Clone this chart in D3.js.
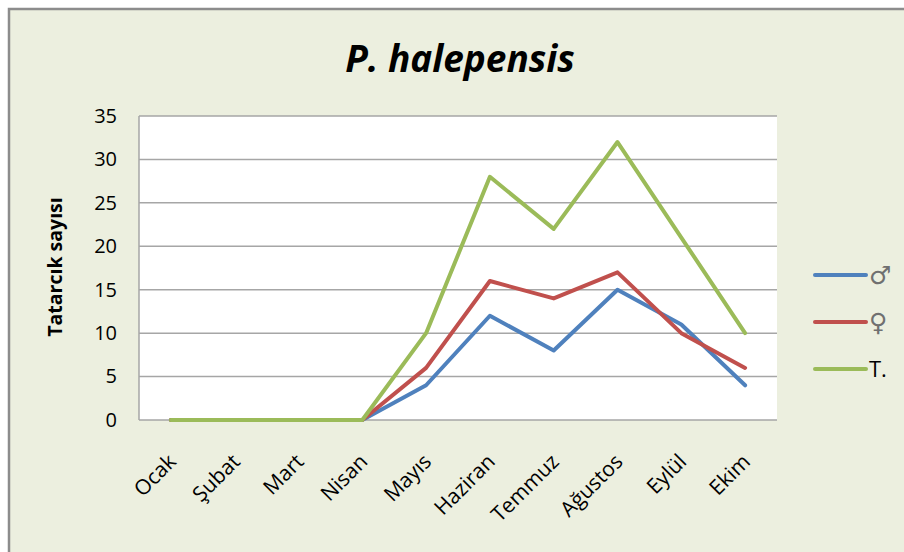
<!DOCTYPE html>
<html>
<head>
<meta charset="utf-8">
<script src="https://cdn.jsdelivr.net/npm/d3@7"></script>
<style>
  body { margin: 0; background: #fff; }
  text { font-family: "Open Sans", "DejaVu Sans", sans-serif; }
</style>
</head>
<body>
<div class="chart"></div>
<script>
const WIDTH = 904;
const HEIGHT = 552;

// plot area
const LEFT = 139, TOP = 116, RIGHT = 777, BOTTOM = 420;

var months = ["Ocak", "Şubat", "Mart", "Nisan", "Mayıs", "Haziran", "Temmuz", "Ağustos", "Eylül", "Ekim"];
var erkek = [0, 0, 0, 0, 4, 12, 8, 15, 11, 4];
var disi = [0, 0, 0, 0, 6, 16, 14, 17, 10, 6];
var toplam = [0, 0, 0, 0, 10, 28, 22, 32, 21, 10];
var yTicks = [0, 5, 10, 15, 20, 25, 30, 35];

var series = [
  { name: "♂", values: erkek, color: "#4F81BD" },
  { name: "♀", values: disi, color: "#C0504D" },
  { name: "T.", values: toplam, color: "#9BBB59" }
];

var translate = function(x, y) {
  return "translate(" + x + "," + y + ")";
};

var svg = d3.select(".chart").append("svg")
  .attr("width", WIDTH)
  .attr("height", HEIGHT);

// chart background + frame
svg.append("rect")
  .attr("x", 9).attr("y", 9)
  .attr("width", WIDTH + 10).attr("height", HEIGHT + 10)
  .attr("fill", "#ECEFDF")
  .attr("stroke", "#8C8C8C")
  .attr("stroke-width", 2.5);

var xScale = d3.scalePoint()
  .domain(months)
  .range([LEFT, RIGHT])
  .padding(0.5);

var yScale = d3.scaleLinear()
  .domain([0, 35])
  .range([BOTTOM, TOP]);

// plot area
svg.append("rect")
  .attr("x", LEFT).attr("y", TOP)
  .attr("width", RIGHT - LEFT).attr("height", BOTTOM - TOP)
  .attr("fill", "#fff");

// grid
svg.selectAll(".grid")
  .data(yTicks)
  .enter().append("line")
  .attr("x1", LEFT).attr("x2", RIGHT)
  .attr("y1", function(d) { return yScale(d); })
  .attr("y2", function(d) { return yScale(d); })
  .attr("stroke", "#A6A6A6")
  .attr("stroke-width", 1.5);

svg.append("line")
  .attr("x1", LEFT).attr("x2", LEFT)
  .attr("y1", TOP).attr("y2", BOTTOM)
  .attr("stroke", "#A6A6A6").attr("stroke-width", 1.5);

// y axis
var yAxis = d3.axisLeft(yScale).tickValues(yTicks).tickSize(0).tickPadding(22);
var gy = svg.append("g")
  .attr("transform", translate(LEFT, 0))
  .call(yAxis);
gy.select(".domain").remove();
gy.selectAll("text")
  .attr("font-size", 20)
  .attr("fill", "#000")
  .style("font-family", "'Open Sans', sans-serif");

// x axis
var xAxis = d3.axisBottom(xScale).tickSize(0).tickPadding(0);
var gx = svg.append("g")
  .attr("transform", translate(0, BOTTOM))
  .call(xAxis);
gx.select(".domain").remove();
gx.selectAll("text")
  .attr("font-size", 21)
  .attr("fill", "#000")
  .attr("text-anchor", "end")
  .attr("dy", 0)
  .attr("transform", "translate(6,43) rotate(-45)")
  .style("font-family", "'Open Sans', sans-serif");

// lines
var line = d3.line()
  .x(function(d, i) { return xScale(months[i]); })
  .y(function(d) { return yScale(d); });

svg.selectAll(".series")
  .data(series)
  .enter().append("path")
  .attr("d", function(s) { return line(s.values); })
  .attr("fill", "none")
  .attr("stroke", function(s) { return s.color; })
  .attr("stroke-width", 4)
  .attr("stroke-linejoin", "round")
  .attr("stroke-linecap", "round");

// title
svg.append("text")
  .attr("x", 460).attr("y", 72)
  .attr("text-anchor", "middle")
  .attr("font-size", 37)
  .attr("font-weight", "bold")
  .attr("font-style", "italic")
  .text("P. halepensis");

// y title
svg.append("text")
  .attr("transform", translate(62, 267) + " rotate(-90)")
  .attr("text-anchor", "middle")
  .attr("font-size", 19.5)
  .attr("font-weight", "bold")
  .text("Tatarcık sayısı");

// legend
var legend = svg.selectAll(".legend")
  .data(series)
  .enter().append("g")
  .attr("transform", function(d, i) { return translate(815, 275 + i * 47); });

legend.append("line")
  .attr("x1", 0).attr("x2", 51)
  .attr("stroke", function(d) { return d.color; })
  .attr("stroke-width", 4)
  .attr("stroke-linecap", "round");

legend.append("text")
  .attr("x", 54).attr("y", function(d, i) { return i < 2 ? 9 : 8; })
  .attr("font-size", function(d, i) { return i < 2 ? 25 : 22; })
  .attr("fill", function(d, i) { return i < 2 ? "#707070" : "#000"; })
  .text(function(d) { return d.name; });
</script>
</body>
</html>
